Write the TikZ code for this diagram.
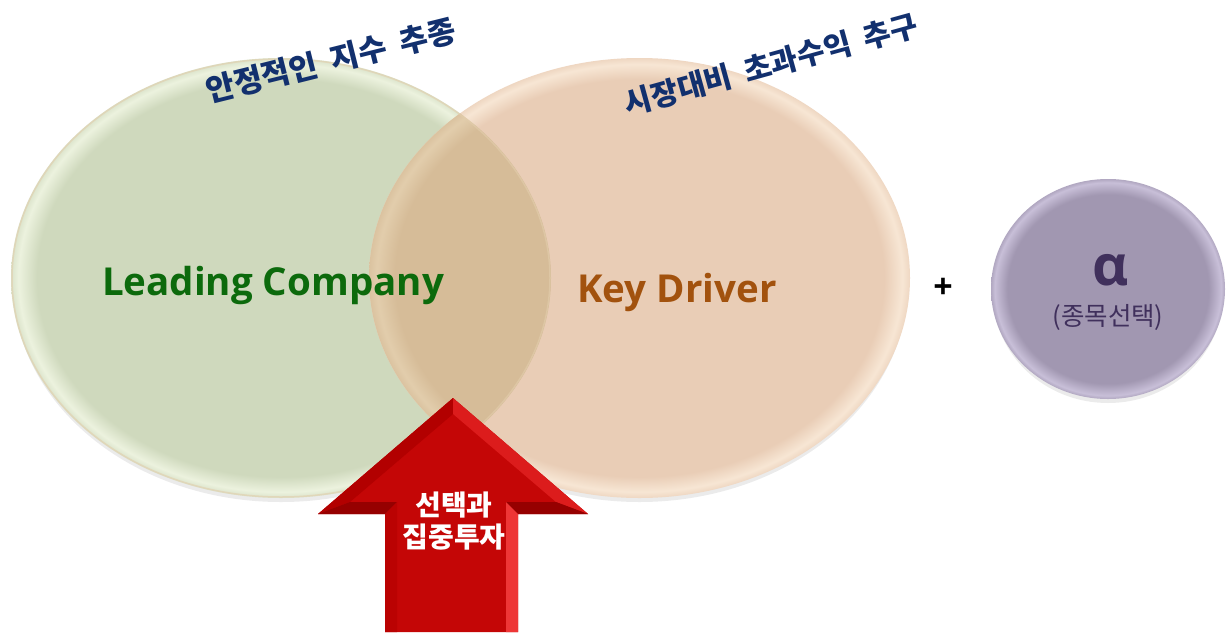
\documentclass[tikz,border=0pt]{standalone}
\usepackage{fontspec}
\setmainfont{Open Sans}
\newfontfamily\kr{Noto Sans CJK KR}
\usetikzlibrary{shapes.geometric}
\definecolor{lfill}{RGB}{207,217,189}
\definecolor{lrim}{RGB}{236,242,222}
\definecolor{rfill}{RGB}{233,205,182}
\definecolor{rrim}{RGB}{247,230,212}
\definecolor{ofill}{RGB}{214,188,152}
\definecolor{orim}{RGB}{226,205,172}
\definecolor{pfill}{RGB}{161,151,177}
\definecolor{prim}{RGB}{200,191,216}
\definecolor{navy}{RGB}{18,48,110}
\definecolor{lgreen}{RGB}{12,106,12}
\definecolor{kbrown}{RGB}{162,82,14}
\definecolor{alphac}{RGB}{64,48,92}
\definecolor{redmain}{RGB}{196,6,6}
\definecolor{redleft}{RGB}{178,0,0}
\definecolor{redright}{RGB}{220,28,28}
\definecolor{redunder}{RGB}{150,0,0}
\definecolor{redshl}{RGB}{186,2,2}
\definecolor{redshr}{RGB}{238,54,54}
\pgfdeclareradialshading{lshade}{\pgfpoint{0bp}{0bp}}{color(0bp)=(lfill); color(22.6bp)=(lfill); color(24.3bp)=(lrim); color(25bp)=(lfill!60!lrim); color(50bp)=(lfill!60!lrim)}
\pgfdeclareradialshading{rshade}{\pgfpoint{0bp}{0bp}}{color(0bp)=(rfill); color(22.6bp)=(rfill); color(24.3bp)=(rrim); color(25bp)=(rfill!60!rrim); color(50bp)=(rfill!60!rrim)}
\pgfdeclareradialshading{oshade}{\pgfpoint{0bp}{0bp}}{color(0bp)=(ofill); color(22.6bp)=(ofill); color(24.3bp)=(orim); color(25bp)=(ofill!60!orim); color(50bp)=(ofill!60!orim)}
\pgfdeclareradialshading{pshade}{\pgfpoint{0bp}{0bp}}{color(0bp)=(pfill); color(21.5bp)=(pfill); color(24.2bp)=(prim); color(25bp)=(pfill!60!prim); color(50bp)=(pfill!60!prim)}
\tikzset{
  blob/.style={ellipse, inner sep=0pt, draw=none},
  toptext/.style={text=navy, font=\kr\bfseries\fontsize{#1}{32}\selectfont, inner sep=0pt},
  maintext/.style={font=\bfseries\fontsize{38.5}{40}\selectfont, inner sep=0pt, anchor=base},
  arrowtext/.style={text=white, font=\kr\bfseries\fontsize{28}{32}\selectfont, align=center, inner sep=0pt},
  shadowfill/.style={fill=black, opacity=0.08}
}
\begin{document}
\begin{tikzpicture}[x=1pt, y=-1pt]
\useasboundingbox (0,0) rectangle (1228,632);
\fill[white] (0,0) rectangle (1228,632);

% shadows
\fill[shadowfill] (281,283) ellipse [x radius=268pt, y radius=219pt];
\fill[shadowfill] (639.5,283) ellipse [x radius=268.5pt, y radius=219pt];
\fill[shadowfill] (1108,294) ellipse [x radius=115pt, y radius=109pt];

% ellipses
\node[blob, minimum width=540pt, minimum height=440pt, shading=lshade] (lc) at (281,278) {};
\node[blob, minimum width=541pt, minimum height=440pt, shading=rshade] (kd) at (639.5,278) {};
\begin{scope}
  \clip (281,278) ellipse [x radius=270pt, y radius=220pt];
  \shade[shading=oshade] (639.5,278) ellipse [x radius=270.5pt, y radius=220pt];
  \draw[draw=orim, line width=1.5pt, opacity=0.6] (281,278) ellipse [x radius=269pt, y radius=219pt];
\end{scope}
\node[blob, minimum width=234pt, minimum height=220pt, shading=pshade] (al) at (1108,289) {};

% texts
\node[maintext, text=lgreen] (lct) at (273,295) {Leading Company};
\node[maintext, text=kbrown] (kdt) at (677,302) {Key Driver};
\node[toptext=31, rotate=14] (t1) at (331,60.5) {안정적인\hspace{14pt}지수\hspace{14pt}추종};
\node[toptext=30, rotate=15.4] (t2) at (771,64.5) {시장대비\hspace{13.5pt}초과수익\hspace{13.5pt}추구};
\node[font=\bfseries\fontsize{34}{36}\selectfont, inner sep=0pt] (plus) at (943,288) {+};
\node[font=\bfseries\fontsize{56}{58}\selectfont, text=alphac, inner sep=0pt, anchor=base] (alpha) at (1111,285) {α};
\node[font=\kr\fontsize{25.5}{27}\selectfont, text=alphac, inner sep=0pt] (sel) at (1108,317) {(종목선택)};

% arrow
\coordinate (tip) at (453,398);
\coordinate (hl) at (318,514);
\coordinate (hr) at (588,514);
\coordinate (sl) at (385,514);
\coordinate (sr) at (518,514);
\coordinate (bl) at (385,632);
\coordinate (br) at (518,632);
\coordinate (tipi) at (453,414);
\coordinate (hli) at (350,502);
\coordinate (hri) at (556,502);
\coordinate (sli) at (397,502);
\coordinate (sri) at (506,502);
\coordinate (bli) at (397,632);
\coordinate (bri) at (506,632);
\fill[redmain] (tip) -- (hr) -- (sr) -- (br) -- (bl) -- (sl) -- (hl) -- cycle;
\fill[redleft] (tip) -- (hl) -- (hli) -- (tipi) -- cycle;
\fill[redright] (tip) -- (hr) -- (hri) -- (tipi) -- cycle;
\fill[redunder] (hl) -- (sl) -- (sli) -- (hli) -- cycle;
\fill[redunder] (hr) -- (sr) -- (sri) -- (hri) -- cycle;
\fill[redshl] (sl) -- (bl) -- (bli) -- (sli) -- cycle;
\fill[redshr] (sr) -- (br) -- (bri) -- (sri) -- cycle;
\node[arrowtext] (at) at (454,521) {선택과\\집중투자};
\end{tikzpicture}
\end{document}
